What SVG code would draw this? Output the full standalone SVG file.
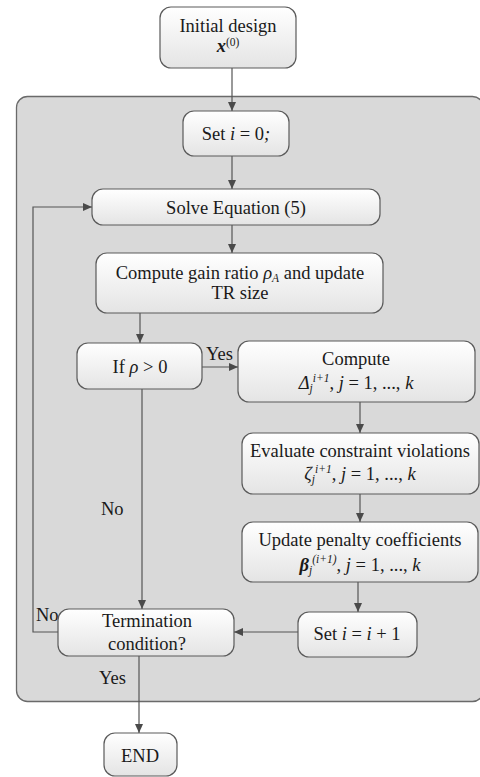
<svg xmlns="http://www.w3.org/2000/svg" width="480" height="777" viewBox="0 0 480 777">
<defs>
<linearGradient id="g" x1="0" y1="0" x2="0" y2="1">
<stop offset="0" stop-color="#ffffff"/>
<stop offset="1" stop-color="#e4e4e4"/>
</linearGradient>
<marker id="ah" markerUnits="userSpaceOnUse" markerWidth="10" markerHeight="8" refX="9" refY="4" orient="auto">
<path d="M0,0 L9,4 L0,8 Z" fill="#4a4a4a"/>
</marker>
<style>
.box{fill:url(#g);stroke:#5a5a5a;stroke-width:1.2}
.c{fill:none;stroke:#555;stroke-width:1.2;marker-end:url(#ah)}
text{font-family:"Liberation Serif","Times New Roman",serif;font-size:18.5px;fill:#1a1a1a}
.m{text-anchor:middle}
.i{font-style:italic}
.s{font-size:11.5px}
</style>
</defs>
<rect id="container" x="16.5" y="96.5" width="467" height="605" rx="11" fill="#d9d9d9" stroke="#6a6a6a" stroke-width="1.3"/>
<g id="connectors">
<path class="c" d="M232,68 V111"/>
<path class="c" d="M232,156 V189"/>
<path class="c" d="M232,225 V253"/>
<path class="c" d="M140,313 V343"/>
<path class="c" d="M202,367 H238"/>
<path class="c" d="M360,402 V433"/>
<path class="c" d="M360,494 V522"/>
<path class="c" d="M358,582 V612"/>
<path class="c" d="M298,632 H234"/>
<path class="c" d="M142,389 V609"/>
<path class="c" d="M58,632 H33 V207 H92"/>
<path class="c" d="M139,656 V733"/>
<text x="206" y="360">Yes</text>
<text x="101" y="515">No</text>
<text x="36" y="621">No</text>
<text x="99" y="684">Yes</text>
</g>
<g id="n-init">
<rect class="box" x="160" y="7" width="136" height="61" rx="11"/>
<text class="m" x="228" y="32">Initial design</text>
<text class="m" x="228" y="52"><tspan font-weight="bold" font-style="italic">x</tspan><tspan class="s" dy="-6">(0)</tspan></text>
</g>
<g id="n-set0">
<rect class="box" x="183" y="111" width="106" height="45" rx="11"/>
<text class="m" x="236" y="140">Set <tspan class="i">i</tspan> = 0<tspan class="i">;</tspan></text>
</g>
<g id="n-solve">
<rect class="box" x="92" y="189" width="288" height="36" rx="11"/>
<text class="m" x="236" y="214">Solve Equation (5)</text>
</g>
<g id="n-gain">
<rect class="box" x="96" y="253" width="287" height="60" rx="11"/>
<text class="m" x="240" y="279">Compute gain ratio <tspan class="i">ρ</tspan><tspan class="i s" dy="3">A</tspan><tspan dy="-3"> and update</tspan></text>
<text class="m" x="240" y="299">TR size</text>
</g>
<g id="n-if">
<rect class="box" x="77" y="343" width="125" height="46" rx="11"/>
<text class="m" x="140" y="373">If <tspan class="i">ρ</tspan> &gt; 0</text>
</g>
<g id="n-compute">
<rect class="box" x="238" y="341" width="237" height="61" rx="11"/>
<text class="m" x="356" y="365">Compute</text>
<text class="m" x="356" y="389"><tspan class="i">Δ</tspan><tspan class="i s" dy="3">j</tspan><tspan class="i s" dy="-10">i+1</tspan><tspan dy="7">, </tspan><tspan class="i">j</tspan> = 1, ..., <tspan class="i">k</tspan></text>
</g>
<g id="n-eval">
<rect class="box" x="242" y="433" width="237" height="61" rx="11"/>
<text class="m" x="360" y="457">Evaluate constraint violations</text>
<text class="m" x="360" y="480"><tspan class="i">ζ</tspan><tspan class="i s" dy="3">j</tspan><tspan class="i s" dy="-10">i+1</tspan><tspan dy="7">, </tspan><tspan class="i">j</tspan> = 1, ..., <tspan class="i">k</tspan></text>
</g>
<g id="n-update">
<rect class="box" x="242" y="522" width="236" height="60" rx="11"/>
<text class="m" x="360" y="546">Update penalty coefficients</text>
<text class="m" x="360" y="571"><tspan class="i" font-weight="bold">β</tspan><tspan class="i s" dy="3">j</tspan><tspan class="i s" dy="-11">(i+1)</tspan><tspan dy="8">, </tspan><tspan class="i">j</tspan> = 1, ..., <tspan class="i">k</tspan></text>
</g>
<g id="n-seti">
<rect class="box" x="298" y="612" width="119" height="45" rx="11"/>
<text class="m" x="357" y="640">Set <tspan class="i">i</tspan> = <tspan class="i">i</tspan> + 1</text>
</g>
<g id="n-term">
<rect class="box" x="58" y="609" width="176" height="47" rx="11"/>
<text class="m" x="147" y="627">Termination</text>
<text class="m" x="147" y="650">condition?</text>
</g>
<g id="n-end">
<rect class="box" x="104" y="733" width="73" height="43" rx="11"/>
<text class="m" x="140" y="762">END</text>
</g>
</svg>
